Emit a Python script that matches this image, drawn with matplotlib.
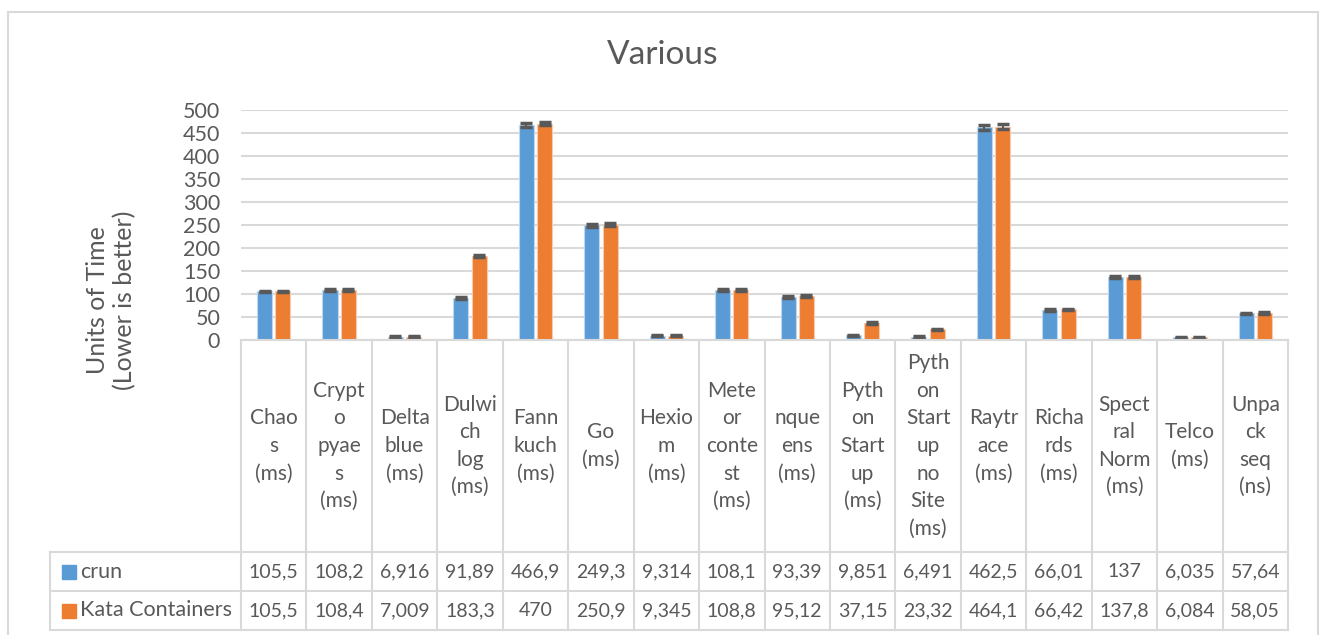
import matplotlib.pyplot as plt
import matplotlib.transforms as mtransforms
from matplotlib.lines import Line2D
from matplotlib.patches import Rectangle
import numpy as np

# data
categories = ["Chao\ns\n(ms)", "Crypt\no\npyae\ns\n(ms)", "Delta\nblue\n(ms)", "Dulwi\nch\nlog\n(ms)",
              "Fann\nkuch\n(ms)", "Go\n(ms)", "Hexio\nm\n(ms)", "Mete\nor\nconte\nst\n(ms)",
              "nque\nens\n(ms)", "Pyth\non\nStart\nup\n(ms)", "Pyth\non\nStart\nup\nno\nSite\n(ms)",
              "Raytr\nace\n(ms)", "Richa\nrds\n(ms)", "Spect\nral\nNorm\n(ms)", "Telco\n(ms)",
              "Unpa\nck\nseq\n(ns)"]
crun = [105.5, 108.2, 6.916, 91.89, 466.9, 249.3, 9.314, 108.1, 93.39, 9.851, 6.491, 462.5, 66.01, 137, 6.035, 57.64]
kata = [105.5, 108.4, 7.009, 183.3, 470, 250.9, 9.345, 108.8, 95.12, 37.15, 23.32, 464.1, 66.42, 137.8, 6.084, 58.05]
crun_labels = ["105,5", "108,2", "6,916", "91,89", "466,9", "249,3", "9,314", "108,1", "93,39", "9,851",
               "6,491", "462,5", "66,01", "137", "6,035", "57,64"]
kata_labels = ["105,5", "108,4", "7,009", "183,3", "470", "250,9", "9,345", "108,8", "95,12", "37,15",
               "23,32", "464,1", "66,42", "137,8", "6,084", "58,05"]
crun_err = [2, 2, 1.5, 2, 4, 3, 1.5, 2, 2, 1.5, 1.5, 5, 2, 2, 1.5, 2]
kata_err = [2, 2, 1.5, 2, 3, 3, 1.5, 2, 2, 2, 1.5, 5, 2, 2, 1.5, 2]
series_names = ["crun", "Kata Containers"]
yticks = list(range(0, 501, 50))

plt.rcParams['font.family'] = ['Lato', 'DejaVu Sans']
txt = '#595959'
grid = '#d9d9d9'
blue = '#5B9BD5'
orange = '#ED7D31'

W, H = 1320, 635
fig = plt.figure(figsize=(W / 100, H / 100), dpi=100)

def fx(px):
    return px / W

def fy(py):
    return 1 - py / H

# outer chart border
fig.add_artist(Rectangle((fx(8), fy(650)), fx(1318) - fx(8), fy(12) - fy(650),
                         transform=fig.transFigure, fill=False, edgecolor=grid, lw=1.5))

ax = fig.add_axes([fx(241), fy(340), fx(1288) - fx(241), fy(110) - fy(340)])
x = np.arange(len(categories))
bw = 0.23
ax.bar(x - 0.14, crun, bw, color=blue, edgecolor='#bdd7ee', linewidth=0.8, zorder=3,
       yerr=crun_err, error_kw=dict(ecolor='#595959', elinewidth=1.5, capsize=4.5, capthick=2.5))
ax.bar(x + 0.14, kata, bw, color=orange, edgecolor='#f8cbad', linewidth=0.8, zorder=3,
       yerr=kata_err, error_kw=dict(ecolor='#595959', elinewidth=1.5, capsize=4.5, capthick=2.5))

ax.set_xlim(-0.5, len(categories) - 0.5)
ax.set_ylim(0, 500)
ax.set_yticks(yticks)
ax.set_yticklabels([str(t) for t in yticks], fontsize=15.5, color=txt)
ax.tick_params(axis='y', length=0, pad=15)
ax.set_xticks([])
ax.grid(axis='y', color=grid, lw=1.5, zorder=0)
for s in ax.spines.values():
    s.set_visible(False)

fig.text(fx(663), fy(55), "Various", fontsize=24, color=txt, ha='center', va='center')
fig.text(fx(111), fy(300), "Units of Time\n(Lower is better)", fontsize=18, color=txt,
         ha='center', va='center', rotation=90, linespacing=1.2)

# data table under the axis
bt = mtransforms.blended_transform_factory(ax.transData, fig.transFigure)
for i in range(len(categories) + 1):
    fig.add_artist(Line2D([i - 0.5, i - 0.5], [fy(340), fy(630)], transform=bt, color=grid, lw=1.5))
for py in [340, 552, 591, 630]:
    x0 = 241 if py == 340 else 50
    fig.add_artist(Line2D([fx(x0), fx(1288)], [fy(py), fy(py)], transform=fig.transFigure, color=grid, lw=1.5))
fig.add_artist(Line2D([fx(50), fx(50)], [fy(552), fy(630)], transform=fig.transFigure, color=grid, lw=1.5))

for i, c in enumerate(categories):
    fig.text(i, fy(446), c, transform=bt, fontsize=15, color=txt, ha='center', va='center', linespacing=1.47)
    fig.text(i, fy(571.5), crun_labels[i], transform=bt, fontsize=14, color=txt, ha='center', va='center')
    fig.text(i, fy(610.5), kata_labels[i], transform=bt, fontsize=14, color=txt, ha='center', va='center')

for py, name, col in [(571.5, series_names[0], blue), (610.5, series_names[1], orange)]:
    fig.add_artist(Rectangle((fx(62), fy(py + 7)), fx(14), fy(py - 7) - fy(py + 7),
                             transform=fig.transFigure, color=col))
    fig.text(fx(80), fy(py), name, fontsize=15.5, color=txt, ha='left', va='center')

fig.savefig('out.png', dpi=100)
